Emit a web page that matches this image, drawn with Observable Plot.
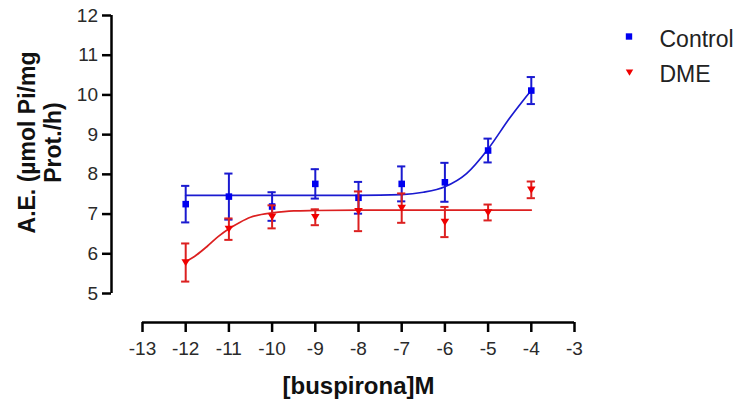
<!DOCTYPE html>
<html><head><meta charset="utf-8">
<script src="https://cdn.jsdelivr.net/npm/d3@7"></script>
<script src="https://cdn.jsdelivr.net/npm/@observablehq/plot@0.6"></script>
<style>
body{margin:0;background:#fff;}
#chart{position:relative;width:740px;height:401px;}
</style></head><body><div id="chart"></div>
<script>
// ---- data ----
const logConc = [-12, -11, -10, -9, -8, -7, -6, -5, -4];
const controlMean = [7.25, 7.44, 7.19, 7.76, 7.41, 7.76, 7.80, 8.60, 10.11];
const controlSem  = [0.46, 0.58, 0.36, 0.37, 0.40, 0.44, 0.49, 0.30, 0.34];
const dmeMean = [5.78, 6.62, 6.93, 6.92, 7.07, 7.15, 6.80, 7.04, 7.61];
const dmeSem  = [0.48, 0.27, 0.29, 0.20, 0.50, 0.37, 0.38, 0.20, 0.21];
// fitted curves, points
const controlFitX = [-12, -11, -10, -9, -8, -7, -6.5, -6, -5.5, -5, -4.5, -4];
const controlFitY = [7.47, 7.47, 7.47, 7.47, 7.47, 7.49, 7.55, 7.69, 8.02, 8.64, 9.42, 10.12];
const dmeFitX = [-12, -11.75, -11.5, -11.25, -11, -10.75, -10.5, -10.25, -10, -9.5, -9, -8, -7, -6, -5, -4];
const dmeFitY = [5.80, 5.97, 6.19, 6.43, 6.63, 6.79, 6.92, 6.99, 7.03, 7.08, 7.09, 7.10, 7.10, 7.10, 7.10, 7.10];
const xTicks = [-13, -12, -11, -10, -9, -8, -7, -6, -5, -4, -3];
const yTicks = [5, 6, 7, 8, 9, 10, 11, 12];
const seriesNames = ["Control", "DME"];
const xTitle = "[buspirona]M";
const yTitle = "A.E. (µmol Pi/mg\nProt./h)";

// ---- build ----
const blue = "#0000f0", blueLine = "#1a1ad0", red = "#f00000", redLine = "#dc2020";
const font = "'Liberation Sans', Arial, sans-serif";
const triDown = {draw(ctx, size) {
  const r = Math.sqrt(size / Math.PI);
  ctx.moveTo(-r * 1.1, -r * 0.85); ctx.lineTo(r * 1.1, -r * 0.85); ctx.lineTo(0, r * 0.95); ctx.closePath();
}};
const pts = (means, sems) => logConc.map((x, i) => ({x, y: means[i], e: sems[i]}));
const ctrl = pts(controlMean, controlSem);
const dme = pts(dmeMean, dmeSem);
const ctrlFit = controlFitX.map((x, i) => ({x, y: controlFitY[i]}));
const dmeFit = dmeFitX.map((x, i) => ({x, y: dmeFitY[i]}));
const cap = 0.095;

function errMarks(data, color) {
  return [
    Plot.ruleX(data, {x: "x", y1: d => d.y - d.e, y2: d => d.y + d.e, stroke: color, strokeWidth: 2}),
    Plot.ruleY(data, {y: d => d.y + d.e, x1: d => d.x - cap, x2: d => d.x + cap, stroke: color, strokeWidth: 2}),
    Plot.ruleY(data, {y: d => d.y - d.e, x1: d => d.x - cap, x2: d => d.x + cap, stroke: color, strokeWidth: 2})
  ];
}

const chart = Plot.plot({
  width: 740, height: 401,
  marginLeft: 111, marginRight: 166, marginTop: 15, marginBottom: 79,
  style: {fontFamily: font, background: "#fff", color: "#222"},
  x: {domain: [xTicks[0], xTicks[xTicks.length - 1]], insetLeft: 31},
  y: {domain: [yTicks[0], yTicks[yTicks.length - 1]], insetBottom: 29},
  marks: [
    Plot.ruleX([xTicks[0]], {y1: yTicks[0], y2: yTicks[yTicks.length - 1], dx: -31, stroke: "#000", strokeWidth: 2.5}),
    Plot.ruleY([yTicks[0]], {x1: xTicks[0], x2: xTicks[xTicks.length - 1], dy: 29, stroke: "#000", strokeWidth: 2.5}),
    Plot.axisX({ticks: xTicks, tickSize: 10, tickPadding: 9, strokeWidth: 2.5, stroke: "#000", fontSize: 19, fill: "#2a2a2a", label: null, tickFormat: d => String(d)}),
    Plot.axisY({ticks: yTicks, tickSize: 9, tickPadding: 4.5, strokeWidth: 2.5, stroke: "#000", fontSize: 19, fill: "#2a2a2a", label: null, tickFormat: d => String(d)}),
    Plot.text([xTitle], {x: () => (xTicks[0] + xTicks[xTicks.length - 1]) / 2, frameAnchor: "bottom", lineAnchor: "bottom", dy: 71, text: d => d, fontSize: 24, fontWeight: "bold", fill: "#111"}),
    Plot.text([yTitle], {frameAnchor: "top-left", dx: -72, dy: 127, rotate: -90, text: d => d, fontSize: 23, lineHeight: 1.12, fontWeight: "bold", fill: "#111", textAnchor: "middle", lineAnchor: "middle"}),
    // control
    Plot.line(ctrlFit, {x: "x", y: "y", curve: "monotone-x", stroke: blueLine, strokeWidth: 1.7}),
    ...errMarks(ctrl, blueLine),
    Plot.dot(ctrl, {x: "x", y: "y", symbol: "square", r: 3.7, fill: blue}),
    // DME
    Plot.line(dmeFit, {x: "x", y: "y", curve: "monotone-x", stroke: redLine, strokeWidth: 1.7}),
    ...errMarks(dme, redLine),
    Plot.dot(dme, {x: "x", y: "y", symbol: triDown, r: 3.9, fill: red}),
    // legend
    Plot.dot([seriesNames[0]], {frameAnchor: "top-right", dx: 54.5, dy: 21, symbol: "square", r: 3.6, fill: blue}),
    Plot.dot([seriesNames[1]], {frameAnchor: "top-right", dx: 55, dy: 57, symbol: triDown, r: 3.4, fill: red}),
    Plot.text([seriesNames[0]], {frameAnchor: "top-right", dx: 85, dy: 31.5, text: d => d, textAnchor: "start", lineAnchor: "bottom", fontSize: 23, fill: "#222"}),
    Plot.text([seriesNames[1]], {frameAnchor: "top-right", dx: 85, dy: 66.5, text: d => d, textAnchor: "start", lineAnchor: "bottom", fontSize: 23, fill: "#222"})
  ]
});
document.getElementById("chart").appendChild(chart);
</script>
</body></html>
